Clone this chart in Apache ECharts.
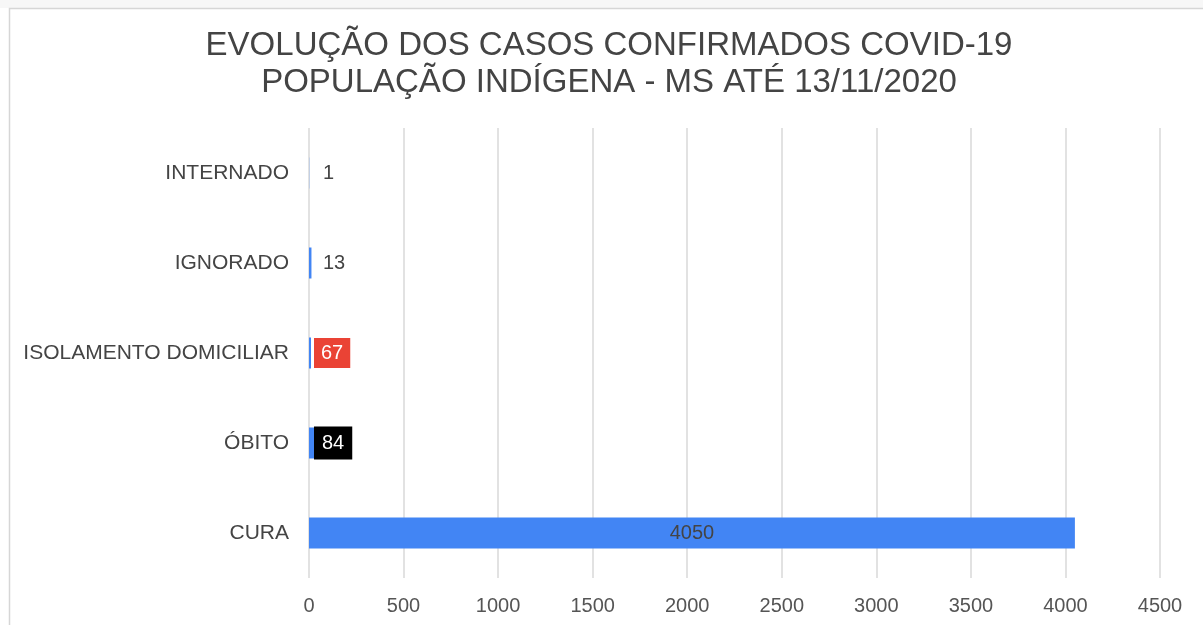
<!DOCTYPE html>
<html>
<head>
<meta charset="utf-8">
<script src="https://cdn.jsdelivr.net/npm/echarts@6/dist/echarts.min.js"></script>
<style>
html,body{margin:0;padding:0;background:#fff;}
#chart{width:1203px;height:625px;}
</style>
</head>
<body>
<div id="chart"></div>
<script>
const titleLines = ['EVOLUÇÃO DOS CASOS CONFIRMADOS COVID-19', 'POPULAÇÃO INDÍGENA - MS ATÉ 13/11/2020'];
const categories = ['CURA', 'ÓBITO', 'ISOLAMENTO DOMICILIAR', 'IGNORADO', 'INTERNADO'];
const values = [4050, 84, 67, 13, 1];
const xTicks = [0, 500, 1000, 1500, 2000, 2500, 3000, 3500, 4000, 4500];

const FONT = '"Liberation Sans", Arial, sans-serif';
const labelStyles = [
  { position: 'inside', color: '#444' },
  { position: [5, '50%'], verticalAlign: 'middle', color: '#fff', backgroundColor: '#000', padding: [7, 8, 6, 8] },
  { position: [5, '50%'], verticalAlign: 'middle', color: '#fff', backgroundColor: '#EA4335', borderColor: '#fff', borderWidth: 3, padding: [5.5, 7, 4.5, 7] },
  { position: [14, '50%'], verticalAlign: 'middle', color: '#444' },
  { position: [14, '50%'], verticalAlign: 'middle', color: '#444' }
];

const chart = echarts.init(document.getElementById('chart'));
chart.setOption({
  backgroundColor: '#fff',
  animation: false,
  graphic: [
    { type: 'rect', shape: { x: 0, y: 0, width: 1203, height: 8 }, style: { fill: '#f7f7f7' }, silent: true },
    { type: 'rect', shape: { x: 9.5, y: 8.5, width: 1300, height: 700 }, style: { fill: 'none', stroke: '#d6d6d6', lineWidth: 1.5 }, silent: true },
    { type: 'text', x: 609, y: 46, style: { text: titleLines[0], font: '33px ' + FONT, fill: '#444', align: 'center', verticalAlign: 'middle' }, silent: true },
    { type: 'text', x: 609, y: 83, style: { text: titleLines[1], font: '33px ' + FONT, fill: '#444', align: 'center', verticalAlign: 'middle' }, silent: true }
  ],
  grid: { left: 309, right: 43, top: 128, bottom: 47, containLabel: false },
  xAxis: {
    type: 'value', min: 0, max: 4500, interval: 500,
    axisLine: { show: false }, axisTick: { show: false },
    splitLine: { show: true, lineStyle: { color: '#d9d9d9', width: 1.5 } },
    axisLabel: { color: '#555', fontSize: 20, fontFamily: FONT, margin: 18,
      formatter: function (v) { return xTicks.indexOf(v) >= 0 ? String(v) : ''; } }
  },
  yAxis: {
    type: 'category', data: categories,
    axisLine: { show: false }, axisTick: { show: false }, splitLine: { show: false },
    axisLabel: { color: '#444', fontSize: 21, fontFamily: FONT, margin: 20 }
  },
  series: [{
    type: 'bar',
    barWidth: 31,
    itemStyle: { color: '#4285F4' },
    data: values.map(function (v, i) {
      return { value: v, label: Object.assign({ show: true, fontSize: 20, fontFamily: FONT }, labelStyles[i]) };
    })
  }]
});
</script>
</body>
</html>
